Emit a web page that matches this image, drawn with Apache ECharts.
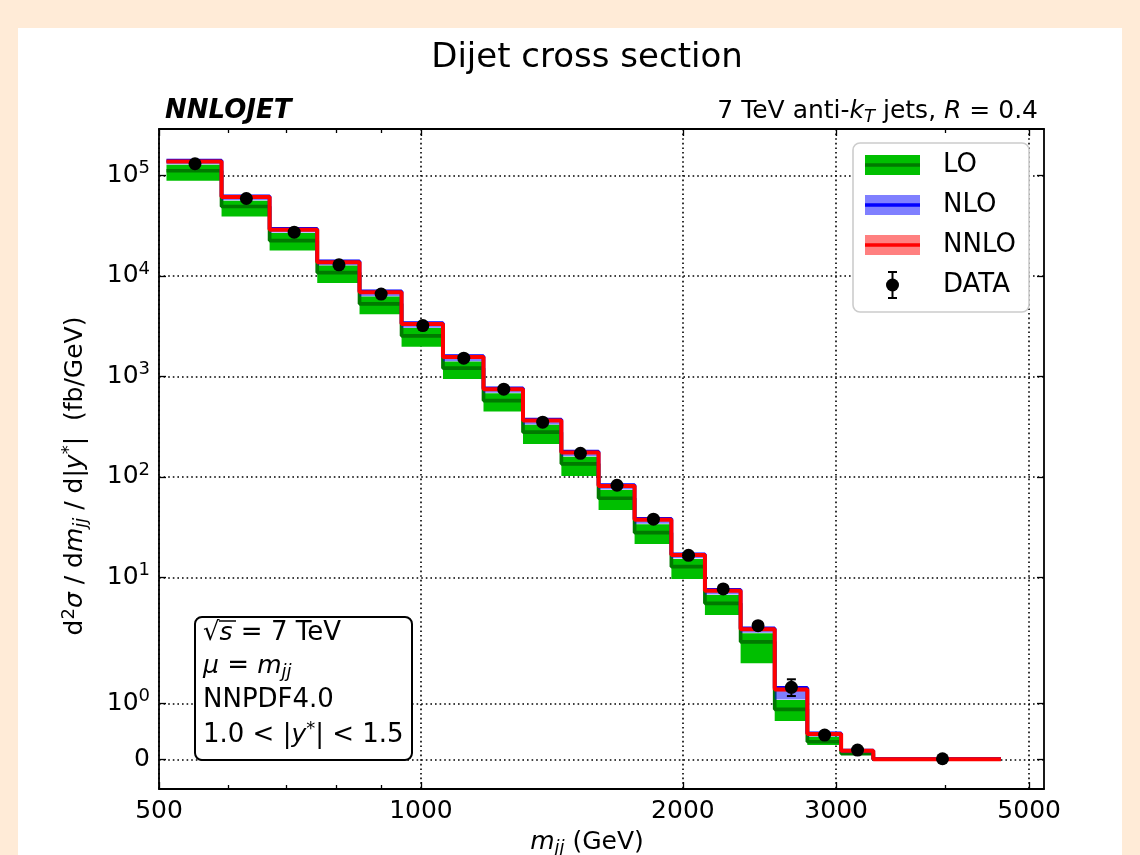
<!DOCTYPE html>
<html>
<head>
<meta charset="utf-8">
<title>Dijet cross section</title>
<script src="https://cdn.jsdelivr.net/npm/echarts@6/dist/echarts.min.js"></script>
<style>
  html, body { margin: 0; padding: 0; background: #ffebd7; }
  #panel { position: absolute; left: 18px; top: 28px; width: 1104px; height: 827px; background: #fff; }
  #chart { position: absolute; left: 0; top: 0; width: 1140px; height: 855px; }
</style>
</head>
<body>
<div id="panel"></div>
<div id="chart"></div>
<script>
// bin edges in m_jj (GeV)
const binEdges = [510, 590, 670, 760, 850, 950, 1060, 1180, 1310, 1450, 1600, 1760, 1940, 2120, 2330, 2550, 2780, 3040, 3310, 4640]

// predictions (fb/GeV)
const loCentral = [111400, 49100, 22500, 10800, 5280, 2540, 1210, 575, 279, 135, 61.4, 27.9, 12.8, 5.53, 2.29, 0.896, 0.315, 0.104, 0.002]
const loLow = [88500, 39100, 17900, 8490, 4170, 1980, 946, 447, 213, 102, 46.9, 21.5, 9.65, 4.23, 1.72, 0.686, 0.256, 0.077, 0.001]
const loHigh = [127800, 56000, 26700, 12700, 6240, 3030, 1410, 682, 330, 159, 74.3, 33.8, 15.3, 6.69, 2.78, 1.063, 0.405, 0.136, 0.003]

const nloCentral = [140600, 62100, 29400, 14000, 7040, 3390, 1590, 762, 372, 179, 83.0, 38.4, 17.0, 7.53, 3.11, 1.28, 0.465, 0.158, 0.004]
const nloLow = [129000, 56600, 27000, 12800, 6300, 3060, 1420, 690, 333, 161, 75.1, 34.2, 15.5, 6.77, 2.81, 1.07, 0.41, 0.138, 0.003]
const nloHigh = [141500, 62500, 29600, 14100, 7090, 3410, 1600, 767, 374, 180, 83.5, 38.6, 17.1, 7.58, 3.13, 1.30, 0.47, 0.16, 0.004]

const nnloCentral = [137800, 60900, 28800, 13700, 6900, 3320, 1560, 747, 364, 175, 81.4, 37.6, 16.7, 7.38, 3.05, 1.25, 0.453, 0.154, 0.004]
const nnloLow = [134000, 59200, 28000, 13300, 6710, 3230, 1520, 726, 354, 170, 79.1, 36.5, 16.2, 7.17, 2.96, 1.22, 0.44, 0.148, 0.003]
const nnloHigh = [140000, 61800, 29200, 13900, 7010, 3370, 1580, 758, 369, 178, 82.6, 38.2, 16.9, 7.49, 3.09, 1.27, 0.46, 0.156, 0.004]

// measurement
const dataValue = [130800, 59000, 27300, 12900, 6600, 3210, 1520, 747, 351, 172, 82.7, 38.0, 16.6, 7.68, 3.31, 1.29, 0.435, 0.167, 0.011]
const dataErrUp = [4000, 1800, 800, 400, 200, 100, 50, 25, 12, 6, 3, 1.5, 0.7, 0.35, 0.2, 0.144, 0.06, 0.03, 0.006]
const dataErrDown = [4000, 1800, 800, 400, 200, 100, 50, 25, 12, 6, 3, 1.5, 0.7, 0.35, 0.2, 0.156, 0.06, 0.03, 0.006]

// ticks
const xMajorTicks = [500, 1000, 2000, 3000, 5000]
const xMinorTicks = [600, 700, 800, 900, 4000]
const yTicks = [0, 1, 10, 100, 1000, 10000, 100000]

const X_RANGE = [500, 5200]
const Y_RANGE_SYMLOG = [-0.59, 12.545]

// symlog like matplotlib: linthresh 2, linscale 1, base 10
const LINTHRESH = 2
const LINSCALE = 1 / (1 - 1 / 10)
function symlog(v) {
  const a = Math.abs(v)
  if (a <= LINTHRESH) return v * LINSCALE
  return Math.sign(v) * LINTHRESH * (LINSCALE + Math.log10(a / LINTHRESH))
}
function invSymlog(u) {
  const a = Math.abs(u)
  if (a <= LINTHRESH * LINSCALE) return u / LINSCALE
  return Math.sign(u) * LINTHRESH * Math.pow(10, a / LINTHRESH - LINSCALE)
}
const lx = v => Math.log10(v)

const FONT = 'DejaVu Sans'
const BLACK = '#000'

function stepLine(vals) {
  const pts = vals.map((v, i) => [lx(binEdges[i]), symlog(v)])
  pts.push([lx(binEdges[vals.length]), symlog(vals[vals.length - 1])])
  return pts
}

function bandData(lo, hi) {
  return lo.map((v, i) => [lx(binEdges[i]), lx(binEdges[i + 1]), symlog(v), symlog(hi[i])])
}

function renderBand(color) {
  return function(params, api) {
    const p0 = api.coord([api.value(0), api.value(3)])
    const p1 = api.coord([api.value(1), api.value(2)])
    return {
      type: 'rect',
      shape: { x: p0[0], y: p0[1], width: p1[0] - p0[0], height: p1[1] - p0[1] },
      style: { fill: color }
    }
  }
}

const binCenters = binEdges.slice(0, -1).map((e, i) => (e + binEdges[i + 1]) / 2)
const dataPoints = dataValue.map((v, i) => [lx(binCenters[i]), symlog(v)])
const errData = dataValue.map((v, i) => [lx(binCenters[i]), symlog(v - dataErrDown[i]), symlog(v + dataErrUp[i])])

function renderErr(params, api) {
  const top = api.coord([api.value(0), api.value(2)])
  const bot = api.coord([api.value(0), api.value(1)])
  const w = 4.5
  const st = { stroke: BLACK, lineWidth: 2 }
  return {
    type: 'group',
    children: [
      { type: 'line', shape: { x1: top[0], y1: top[1], x2: bot[0], y2: bot[1] }, style: st },
      { type: 'line', shape: { x1: top[0] - w, y1: top[1], x2: top[0] + w, y2: top[1] }, style: st },
      { type: 'line', shape: { x1: bot[0] - w, y1: bot[1], x2: bot[0] + w, y2: bot[1] }, style: st }
    ]
  }
}

function xAxisDef(position, ticks, major) {
  return {
    type: 'value',
    position: position,
    min: lx(X_RANGE[0]),
    max: lx(X_RANGE[1]),
    axisLine: { show: major, onZero: false, lineStyle: { color: BLACK, width: 1.8 } },
    axisTick: { show: true, inside: true, length: major ? 7 : 4, customValues: ticks.map(lx), lineStyle: { color: BLACK, width: 1.3 } },
    axisLabel: {
      show: major && position === 'bottom',
      customValues: ticks.map(lx),
      formatter: v => String(Math.round(Math.pow(10, v))),
      fontFamily: FONT, fontSize: 25, color: BLACK, margin: 10
    },
    splitLine: { show: major && position === 'bottom', lineStyle: { color: BLACK, width: 1.6, type: [1.6, 3] } }
  }
}

function yLabel(u) {
  const v = invSymlog(u)
  if (v < 0.5) return '0'
  return '10{sup|' + Math.round(Math.log10(v)) + '}'
}

function yAxisDef(position) {
  const left = position === 'left'
  return {
    type: 'value',
    position: position,
    min: Y_RANGE_SYMLOG[0],
    max: Y_RANGE_SYMLOG[1],
    axisLine: { show: true, onZero: false, lineStyle: { color: BLACK, width: 1.8 } },
    axisTick: { show: true, inside: true, length: 7, customValues: yTicks.map(symlog), lineStyle: { color: BLACK, width: 1.3 } },
    axisLabel: {
      show: left,
      customValues: yTicks.map(symlog),
      formatter: yLabel,
      fontFamily: FONT, fontSize: 25, color: BLACK, margin: 9,
      rich: { sup: { fontFamily: FONT, fontSize: 18, color: BLACK, verticalAlign: 'bottom', padding: [0, 0, 14, 0] } }
    },
    splitLine: { show: left, lineStyle: { color: BLACK, width: 1.6, type: [1.6, 3] } }
  }
}

const richMath = {
  i: { fontFamily: FONT, fontStyle: 'italic', fontSize: 25, color: BLACK },
  sub: { fontFamily: FONT, fontStyle: 'italic', fontSize: 18, color: BLACK, verticalAlign: 'top', padding: [12, 0, 0, 0] },
  sup: { fontFamily: FONT, fontSize: 18, color: BLACK, verticalAlign: 'bottom', padding: [0, 0, 12, 0] }
}

function txt(x, y, text, extra) {
  return {
    type: 'text', x: x, y: y, z: 100,
    style: Object.assign({
      text: text, fontFamily: FONT, fontSize: 26, fill: BLACK,
      align: 'left', verticalAlign: 'middle', rich: richMath
    }, extra || {})
  }
}

// legend entries
const legendItems = [
  { label: 'LO', band: '#00bf00', line: '#007a00', y: 165 },
  { label: 'NLO', band: '#8080ff', line: '#0000ff', y: 205 },
  { label: 'NNLO', band: '#ff8080', line: '#ff0000', y: 245 }
]
const legendGraphics = [
  { type: 'rect', z: 100, shape: { x: 853, y: 143, width: 176, height: 169, r: 7 }, style: { fill: '#fff', stroke: '#cccccc', lineWidth: 1.6 } }
]
legendItems.forEach(it => {
  legendGraphics.push({ type: 'rect', z: 101, shape: { x: 865, y: it.y - 10, width: 55, height: 20 }, style: { fill: it.band } })
  legendGraphics.push({ type: 'line', z: 102, shape: { x1: 865, y1: it.y, x2: 920, y2: it.y }, style: { stroke: it.line, lineWidth: 3.7 } })
  legendGraphics.push(txt(943, it.y, it.label, { fontSize: 26 }))
})
legendGraphics.push({ type: 'line', z: 101, shape: { x1: 892.5, y1: 272, x2: 892.5, y2: 298 }, style: { stroke: BLACK, lineWidth: 2 } })
legendGraphics.push({ type: 'line', z: 101, shape: { x1: 888, y1: 272, x2: 897, y2: 272 }, style: { stroke: BLACK, lineWidth: 2 } })
legendGraphics.push({ type: 'line', z: 101, shape: { x1: 888, y1: 298, x2: 897, y2: 298 }, style: { stroke: BLACK, lineWidth: 2 } })
legendGraphics.push({ type: 'circle', z: 102, shape: { cx: 892.5, cy: 285, r: 6.5 }, style: { fill: BLACK } })
legendGraphics.push(txt(943, 285, 'DATA', { fontSize: 26 }))

// info box
const infoGraphics = [
  { type: 'rect', z: 100, shape: { x: 195, y: 617, width: 217, height: 143, r: 7 }, style: { fill: '#fff', stroke: BLACK, lineWidth: 2 } },
  txt(203, 633, '√{i|s} = 7 TeV'),
  { type: 'line', z: 101, shape: { x1: 219, y1: 621, x2: 236, y2: 621 }, style: { stroke: BLACK, lineWidth: 1.5 } },
  txt(203, 666, '{i|μ} = {i|m}{sub|jj}'),
  txt(203, 700, 'NNPDF4.0'),
  txt(203, 735, '1.0 < |{i|y}{sup|*}| < 1.5')
]

const chart = echarts.init(document.getElementById('chart'), null, { renderer: 'canvas' })

chart.setOption({
  animation: false,
  backgroundColor: 'transparent',
  grid: { left: 159, right: 96, top: 129, bottom: 66, containLabel: false },
  xAxis: [
    xAxisDef('bottom', xMajorTicks, true),
    xAxisDef('bottom', xMinorTicks, false),
    xAxisDef('top', xMajorTicks, true),
    xAxisDef('top', xMinorTicks, false)
  ],
  yAxis: [yAxisDef('left'), yAxisDef('right')],
  series: [
    { type: 'custom', name: 'LO', renderItem: renderBand('#00bf00'), data: bandData(loLow, loHigh), z: 1, silent: true },
    { type: 'line', name: 'LO', step: 'end', data: stepLine(loCentral), showSymbol: false, lineStyle: { color: '#007a00', width: 3.7 }, z: 2, silent: true },
    { type: 'custom', name: 'NLO', renderItem: renderBand('rgba(0,0,255,0.5)'), data: bandData(nloLow, nloHigh), z: 3, silent: true },
    { type: 'line', name: 'NLO', step: 'end', data: stepLine(nloCentral), showSymbol: false, lineStyle: { color: '#0000ff', width: 3.7 }, z: 4, silent: true },
    { type: 'custom', name: 'NNLO', renderItem: renderBand('rgba(255,0,0,0.5)'), data: bandData(nnloLow, nnloHigh), z: 5, silent: true },
    { type: 'line', name: 'NNLO', step: 'end', data: stepLine(nnloCentral), showSymbol: false, lineStyle: { color: '#ff0000', width: 4 }, z: 6, silent: true },
    { type: 'custom', name: 'DATA err', renderItem: renderErr, data: errData, z: 7, silent: true },
    { type: 'scatter', name: 'DATA', data: dataPoints, symbolSize: 13, itemStyle: { color: BLACK, opacity: 1 }, z: 8, silent: true }
  ],
  graphic: [
    txt(587, 58, 'Dijet cross section', { fontSize: 34, align: 'center' }),
    txt(165, 111, 'NNLOJET', { fontSize: 26, fontWeight: 'bold', fontStyle: 'italic' }),
    txt(1038, 111, '7 TeV anti-{i|k}{sub|T} jets, {i|R} = 0.4', { fontSize: 25, align: 'right' }),
    txt(587, 842, '{i|m}{sub|jj} (GeV)', { fontSize: 25, align: 'center' }),
    {
      type: 'text', x: 75, y: 476, rotation: Math.PI / 2, z: 100,
      style: {
        text: 'd{sup|2}{i|σ} / d{i|m}{sub|jj} / d|{i|y}{sup|*}|  (fb/GeV)',
        fontFamily: FONT, fontSize: 25, fill: BLACK, align: 'center', verticalAlign: 'middle',
        rich: {
          i: { fontFamily: FONT, fontStyle: 'italic', fontSize: 25, color: BLACK },
          sub: { fontFamily: FONT, fontStyle: 'italic', fontSize: 18, color: BLACK, verticalAlign: 'top', padding: [12, 0, 0, 0] },
          sup: { fontFamily: FONT, fontSize: 18, color: BLACK, verticalAlign: 'bottom', padding: [0, 0, 12, 0] }
        }
      }
    }
  ].concat(legendGraphics, infoGraphics)
})
</script>
</body>
</html>
